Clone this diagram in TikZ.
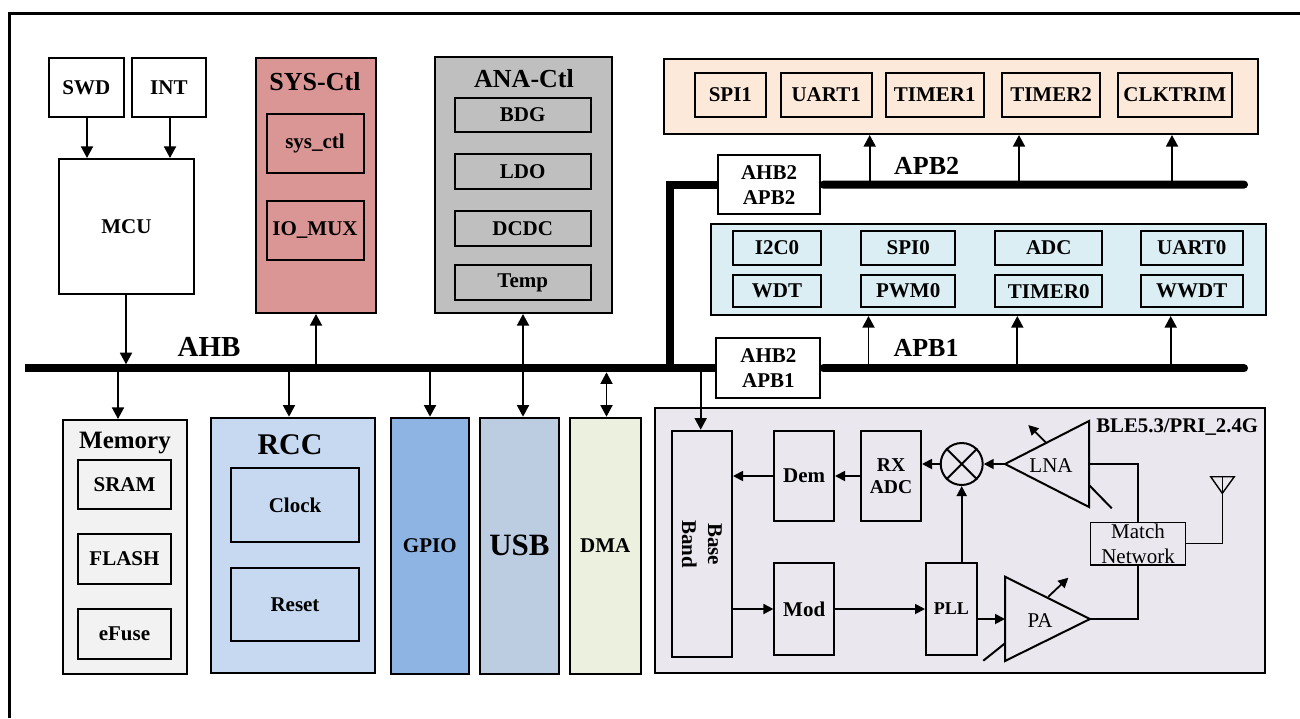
\documentclass[tikz,border=0pt]{standalone}
\usepackage{fontspec}
\setmainfont{Liberation Serif}
\usetikzlibrary{arrows.meta,fit}
\definecolor{sysred}{HTML}{D99694}
\definecolor{anagray}{HTML}{BFBFBF}
\definecolor{memgray}{HTML}{F2F2F2}
\definecolor{rccblue}{HTML}{C6D9F1}
\definecolor{gpioblue}{HTML}{8EB4E3}
\definecolor{usbblue}{HTML}{BCCDE2}
\definecolor{dmagreen}{HTML}{EBF1DE}
\definecolor{apbtwo}{HTML}{FDE9D9}
\definecolor{apbone}{HTML}{DAEEF3}
\definecolor{blegray}{HTML}{EAE7EF}
\begin{document}
\begin{tikzpicture}[x=0.5pt,y=-0.5pt,
  box/.style={draw,line width=1pt,inner sep=0pt},
  txt/.style={inner sep=0pt,align=center,font=\bfseries\fontsize{10.5}{12.5}\selectfont},
  tx/.style={label={[txt]center:{#1}}},
  ttl/.style={anchor=base,inner sep=0pt,font=\bfseries\fontsize{#1}{#1}\selectfont},
  rf/.style={inner sep=0pt,align=center,font=\fontsize{10.5}{12.5}\selectfont},
  bus/.style={line width=4pt},
  arr/.style={line width=0.9pt,-{Triangle[length=5.8pt,width=6pt]}},
  darr/.style={line width=0.9pt,{Triangle[length=5.8pt,width=6pt]}-{Triangle[length=5.8pt,width=6pt]}},
  rarr/.style={line width=0.9pt,-{Triangle[length=5pt,width=5pt]}},
  thinln/.style={line width=0.7pt},
  tri/.style={line width=1pt},
]
\useasboundingbox (0,0) rectangle (1300,718);
\fill[white] (0,0) rectangle (1300,718);
% frame
\draw[line width=1.5pt] (9,718) -- (9,13) -- (1300,13);

% MCU area
\node[box,fit={(49,58)(123.5,117)},tx=SWD] (swd) {};
\node[box,fit={(131.8,58)(206,117)},tx=INT] (int) {};
\node[box,fit={(59,159)(194,294)},tx=MCU] (mcu) {};
\draw[arr] (87,117) coordinate (swdout) -- (swdout |- mcu.north);
\draw[arr] (170,117) coordinate (intout) -- (intout |- mcu.north);

% SYS-Ctl
\node[box,fill=sysred,fit={(256,58)(376,313)}] (sys) {};
\node[ttl=13] (systtl) at (315,90) {SYS-Ctl};
\node[box,fill=sysred,fit={(266.5,114)(363.5,173)},tx=sys\_ctl] (sysctl) {};
\node[box,fill=sysred,fit={(266.5,201)(363.5,260)},tx=IO\_MUX] (iomux) {};

% ANA-Ctl
\node[box,fill=anagray,fit={(435,57)(611.5,313)}] (ana) {};
\node[ttl=13] (anattl) at (524,87.3) {ANA-Ctl};
\node[box,fill=anagray,fit={(454.7,98)(590.7,132)},tx=BDG] (bdg) {};
\node[box,fill=anagray,fit={(454.7,154)(590.7,189)},tx=LDO] (ldo) {};
\node[box,fill=anagray,fit={(454.7,211)(590.7,246)},tx=DCDC] (dcdc) {};
\node[box,fill=anagray,fit={(454.7,265)(590.7,300)},tx=Temp] (temp) {};

% APB2 peripherals
\node[box,fill=apbtwo,fit={(663.7,58.7)(1258,134)}] (apbtwogrp) {};
\node[box,fill=apbtwo,fit={(694.8,72.7)(766,117.3)},tx=SPI1] (spi1) {};
\node[box,fill=apbtwo,fit={(780.6,72.7)(871.8,117.3)},tx=UART1] (uart1) {};
\node[box,fill=apbtwo,fit={(885.5,72.7)(984.1,117.3)},tx=TIMER1] (timer1) {};
\node[box,fill=apbtwo,fit={(1002.4,72.7)(1099.8,117.3)},tx=TIMER2] (timer2) {};
\node[box,fill=apbtwo,fit={(1118,72.7)(1231.6,117.3)},tx=CLKTRIM] (clktrim) {};

% APB1 peripherals
\node[box,fill=apbone,fit={(711.4,224.3)(1265.6,315)}] (apbonegrp) {};
\node[box,fill=apbone,fit={(733,231)(821,265)},tx=I2C0] (i2c0) {};
\node[box,fill=apbone,fit={(861.4,231)(955,265)},tx=SPI0] (spi0) {};
\node[box,fill=apbone,fit={(995.3,231)(1102.3,265)},tx=ADC] (adc) {};
\node[box,fill=apbone,fit={(1140.8,231)(1242.8,265)},tx=UART0] (uart0) {};
\node[box,fill=apbone,fit={(733,275)(821,307.3)},tx=WDT] (wdt) {};
\node[box,fill=apbone,fit={(861.4,275)(955,307.3)},tx=PWM0] (pwm0) {};
\node[box,fill=apbone,fit={(995.3,275)(1102.3,307.3)},tx=TIMER0] (timer0) {};
\node[box,fill=apbone,fit={(1140.8,275)(1242.8,307.3)},tx=WWDT] (wwdt) {};

% bridges
\node[box,fill=white,fit={(717.6,155)(820.4,214.3)},tx={AHB2\\APB2}] (brtwo) {};
\node[box,fill=white,fit={(716.3,338.3)(820.4,398.3)},tx={AHB2\\APB1}] (brone) {};

% buses
\coordinate (ahbL) at (25,368.3);
\coordinate (ahbK) at (670,368.3);
\coordinate (apbtwoR) at (1244,184.6);
\coordinate (apboneR) at (1244,368.3);
\draw[bus] (ahbL) -- (brone.west);
\draw[bus] (ahbK) |- (brtwo.west);
\draw[bus,line cap=round,shorten <=1pt] (brtwo.east) -- (apbtwoR);
\draw[bus,line cap=round,shorten <=1pt] (brone.east) -- (apboneR);
\node[ttl=14.5] (ahbttl) at (209,356.7) {AHB};
\node[ttl=13] (apbtwottl) at (926.7,174) {APB2};
\node[ttl=13] (apbonettl) at (926,356) {APB1};

% APB arrows
\foreach \x/\n in {869.7/a,1019/b,1172/c}{
  \coordinate (ptwo\n) at (\x,184.6);
  \draw[arr] (ptwo\n) -- (ptwo\n |- apbtwogrp.south);
}
\foreach \x/\n in {868.5/a,1017.3/b,1170.7/c}{
  \coordinate (pone\n) at (\x,368.3);
  \draw[arr] (pone\n) -- (pone\n |- apbonegrp.south);
}

% lower blocks
\node[box,fill=memgray,fit={(63,420)(187,674)}] (mem) {};
\node[ttl=12.5] (memttl) at (125,448.3) {Memory};
\node[box,fill=memgray,fit={(78,460)(171,509)},tx=SRAM] (sram) {};
\node[box,fill=memgray,fit={(78,534)(171,584)},tx=FLASH] (flash) {};
\node[box,fill=memgray,fit={(78,609)(171,659)},tx=eFuse] (efuse) {};

\node[box,fill=rccblue,fit={(211,417.7)(375,673)}] (rcc) {};
\node[ttl=15] (rccttl) at (290,454) {RCC};
\node[box,fill=rccblue,fit={(231,468)(359,542)},tx=Clock] (clock) {};
\node[box,fill=rccblue,fit={(231,568)(359,641)},tx=Reset] (reset) {};

\node[box,fill=gpioblue,fit={(390.5,417.7)(469,674)},tx=GPIO] (gpio) {};
\node[box,fill=usbblue,fit={(480,417.7)(559,674)}] (usb) {};
\node[txt,font=\bfseries\fontsize{15.5}{15.5}\selectfont] (usbtxt) at (usb.center) {USB};
\node[box,fill=dmagreen,fit={(570,417.7)(640.5,674)},tx=DMA] (dma) {};

% AHB arrows
\draw[arr] (126,294) coordinate (mcuout) -- (126,364.3);
\coordinate (tsys) at (316,368.3);
\draw[arr] (tsys) -- (tsys |- sys.south);
\coordinate (tana) at (523,368.3);
\draw[arr] (tana) -- (tana |- ana.south);
\coordinate (tmem) at (118,368.3);
\draw[arr] (tmem) -- (tmem |- mem.north);
\coordinate (trcc) at (289,368.3);
\draw[arr] (trcc) -- (trcc |- rcc.north);
\coordinate (tgpio) at (430,368.3);
\draw[arr] (tgpio) -- (tgpio |- gpio.north);
\draw[arr] (tana) -- (tana |- usb.north);
\coordinate (tdma) at (606.5,372.3);
\draw[darr] (tdma) -- (tdma |- dma.north);

% BLE block
\node[box,fill=blegray,fit={(655,408)(1264.8,673.3)}] (ble) {};
\node[anchor=base east,inner sep=0pt,font=\bfseries\fontsize{10.4}{12}\selectfont] (bletitle) at (1258.5,432) {BLE5.3/PRI\_2.4G};
\node[box,fit={(671.6,430.7)(732,657.3)}] (bb) {};
\node[rotate=-90,inner sep=0pt,align=center,font=\bfseries\fontsize{10.5}{13}\selectfont] (bbtxt) at (bb.center) {Base\\Band};
\node[box,fit={(774.4,430.7)(834,521.3)},tx=Dem] (dem) {};
\node[box,fit={(861,430.7)(921,521.3)}] (rxadc) {};
\node[txt,font=\bfseries\fontsize{9.8}{11}\selectfont] (rxadctxt) at (rxadc.center) {RX\\ADC};
\node[box,fit={(774.4,562.7)(834,655.3)},tx=Mod] (mod) {};
\node[box,fit={(926,562.7)(976.7,655.3)}] (pll) {};
\node[txt,font=\bfseries\fontsize{9}{11}\selectfont] (plltxt) at (pll.center) {PLL};
\node[draw,circle,line width=1pt,minimum size=21pt,inner sep=0pt] (mix) at (961.7,464) {};
\draw[line width=1pt] (mix.north west) -- (mix.south east) (mix.north east) -- (mix.south west);
\node[draw,line width=0.7pt,inner sep=0pt,fit={(1090.7,522.3)(1185.3,565)}] (match) {};
\node[rf] (matchtxt) at (match.center) {Match\\Network};

\coordinate (bbtap) at (700.7,368.3);
\draw[arr] (bbtap) -- (bbtap |- bb.north);

% LNA
\coordinate (lnatip) at (1005,464);
\coordinate (lnaout) at (1089,464);
\draw[tri] (lnatip) -- (1089,421) -- (1089,507) -- cycle;
\node[rf] (lnatxt) at (1051,466) {LNA};
\draw[rarr] (1046.7,443.3) -- (1028.3,425);
\draw[tri] (1089,485) -- (1111.7,508.3);

% PA
\coordinate (pain) at (1005,619);
\coordinate (patip) at (1090,619);
\draw[tri] (1005,576.7) -- (patip) -- (1005,661) -- cycle;
\node[rf] (patxt) at (1040,621) {PA};
\draw[rarr] (1048.3,596.7) -- (1068.3,577.7);
\draw[tri] (1005,643.3) -- (983.3,660.7);

% RF connections
\draw[rarr] (mix.west) -- (mix.west -| rxadc.east);
\draw[rarr] (rxadc.west) -- (dem.east);
\draw[rarr] (dem.west) -- (dem.west -| bb.east);
\draw[rarr] (mod.west -| bb.east) -- (mod.west);
\draw[rarr] (mod.east) -- (pll.west);
\draw[rarr] (pll.east |- pain) -- (pain);
\draw[rarr] (mix.south |- pll.north) -- (mix.south);
\draw[rarr] (lnatip) -- (mix.east);
\draw[thinln] (lnaout) -| (match.north);
\draw[thinln] (patip) -| (match.south);

% antenna
\coordinate (antbase) at (1222.3,493.3);
\draw[thinln] (match.east) -| (antbase);
\draw[thinln] (1210.7,476.7) -- (1234.3,476.7) -- (antbase) -- cycle;
\draw[thinln] (antbase) -- (1222.3,476.7);
\end{tikzpicture}
\end{document}
